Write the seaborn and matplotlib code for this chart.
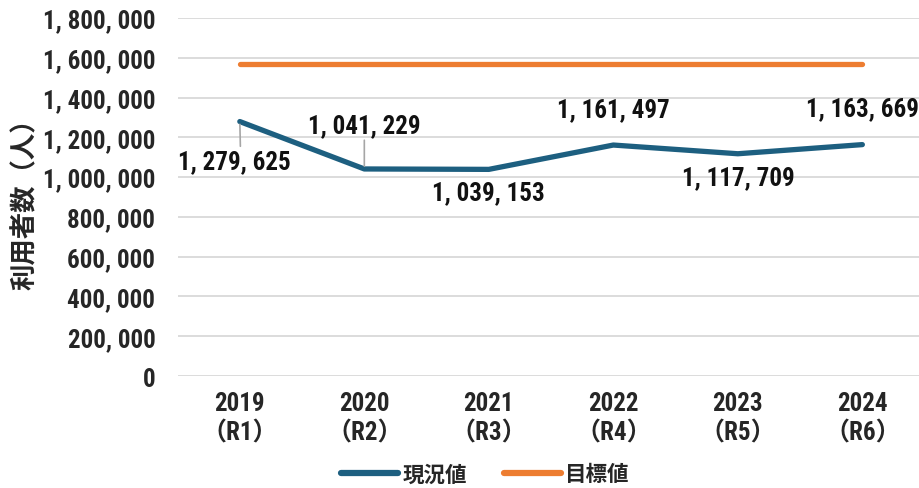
import matplotlib
matplotlib.use('Agg')
import matplotlib.pyplot as plt
from matplotlib import font_manager as fm
import seaborn as sns
import pandas as pd

# data
years = ['2019\n（R1）', '2020\n（R2）', '2021\n（R3）', '2022\n（R4）', '2023\n（R5）', '2024\n（R6）']
actual = [1279625, 1041229, 1039153, 1161497, 1117709, 1163669]
target = [1570000] * 6
series_names = ['現況値', '目標値']
yticks = list(range(0, 1800001, 200000))

sns.set_theme(style='white')

# pick a narrow font for the numbers if one is around
names = {f.name for f in fm.fontManager.ttflist}
stretch = 'normal'
num_font = None
for cand in ['Roboto Condensed', 'Liberation Sans Narrow', 'Open Sans Condensed',
             'Noto Sans Condensed']:
    if cand in names:
        num_font = cand
        break
if num_font is None:
    if any(f.name == 'DejaVu Sans' and f.stretch == 'condensed' for f in fm.fontManager.ttflist):
        num_font = 'DejaVu Sans'
        stretch = 'condensed'
    else:
        num_font = 'Noto Sans CJK JP'
fam = [num_font, 'Noto Sans CJK JP', 'DejaVu Sans']
plt.rcParams['font.family'] = fam
plt.rcParams['font.weight'] = 'bold'
plt.rcParams['font.stretch'] = stretch
nsize = 17 if num_font == 'Noto Sans CJK JP' else 18

df = pd.DataFrame({
    'year': years * 2,
    'value': actual + target,
    'series': [series_names[0]] * 6 + [series_names[1]] * 6,
})

fig = plt.figure(figsize=(9.2, 4.89), dpi=100)
ax = fig.add_axes([0.193, 0.229, 0.812, 0.732])

sns.lineplot(data=df, x='year', y='value', hue='series', sort=False,
             palette=['#1D5F80', '#ED7D31'], linewidth=3.8, ax=ax,
             solid_capstyle='round')

ax.set_xlim(-0.5, 5.5)
ax.set_ylim(0, 1800000)
ax.set_yticks(yticks)
ax.set_yticklabels([f'{v:,}'.replace(',', ', ') for v in yticks], fontsize=nsize,
                   fontweight='bold', fontstretch=stretch)
ax.set_xticks(range(len(years)))
ax.set_xticklabels(years, fontsize=nsize, fontweight='bold', linespacing=1.25,
                   fontstretch=stretch)
ax.tick_params(axis='x', length=0, pad=11)
ax.tick_params(axis='y', length=0, pad=16)
ax.grid(axis='y', color='#D9D9D9', linewidth=1.3)
ax.set_axisbelow(True)
for s in ax.spines.values():
    s.set_visible(False)
ax.set_xlabel('')
ax.set_ylabel('利用者数（人）', fontsize=19, fontweight='bold',
              family=['Noto Sans CJK JP'], labelpad=3)

# data labels (offsets in pixels)
offsets = [(-5, -40), (0, 44), (0, -23), (0, 36), (0, -23), (0, 36)]
for i, (v, off) in enumerate(zip(actual, offsets)):
    kw = {}
    if i == 0:
        kw['arrowprops'] = dict(arrowstyle='-', color='#A6A6A6', lw=1.2,
                                shrinkA=0, shrinkB=2, relpos=(0.55, 1.0))
    elif i == 1:
        kw['arrowprops'] = dict(arrowstyle='-', color='#A6A6A6', lw=1.2,
                                shrinkA=0, shrinkB=2, relpos=(0.5, 0.0))
    ax.annotate(f'{v:,}'.replace(',', ', '), xy=(i, v), xytext=off,
                textcoords='offset pixels', ha='center', va='center',
                fontsize=nsize, fontweight='bold', fontstretch=stretch,
                color='#111111', **kw)

leg = ax.legend(loc='upper center', bbox_to_anchor=(0.412, -0.19), ncol=2,
                frameon=False, handlelength=2.65, columnspacing=1.7,
                handletextpad=0.2, prop={'family': ['Noto Sans CJK JP'],
                                         'size': 15.5, 'weight': 'bold'})
for line in leg.get_lines():
    line.set_linewidth(4.5)

fig.savefig('out.png', dpi=100)
